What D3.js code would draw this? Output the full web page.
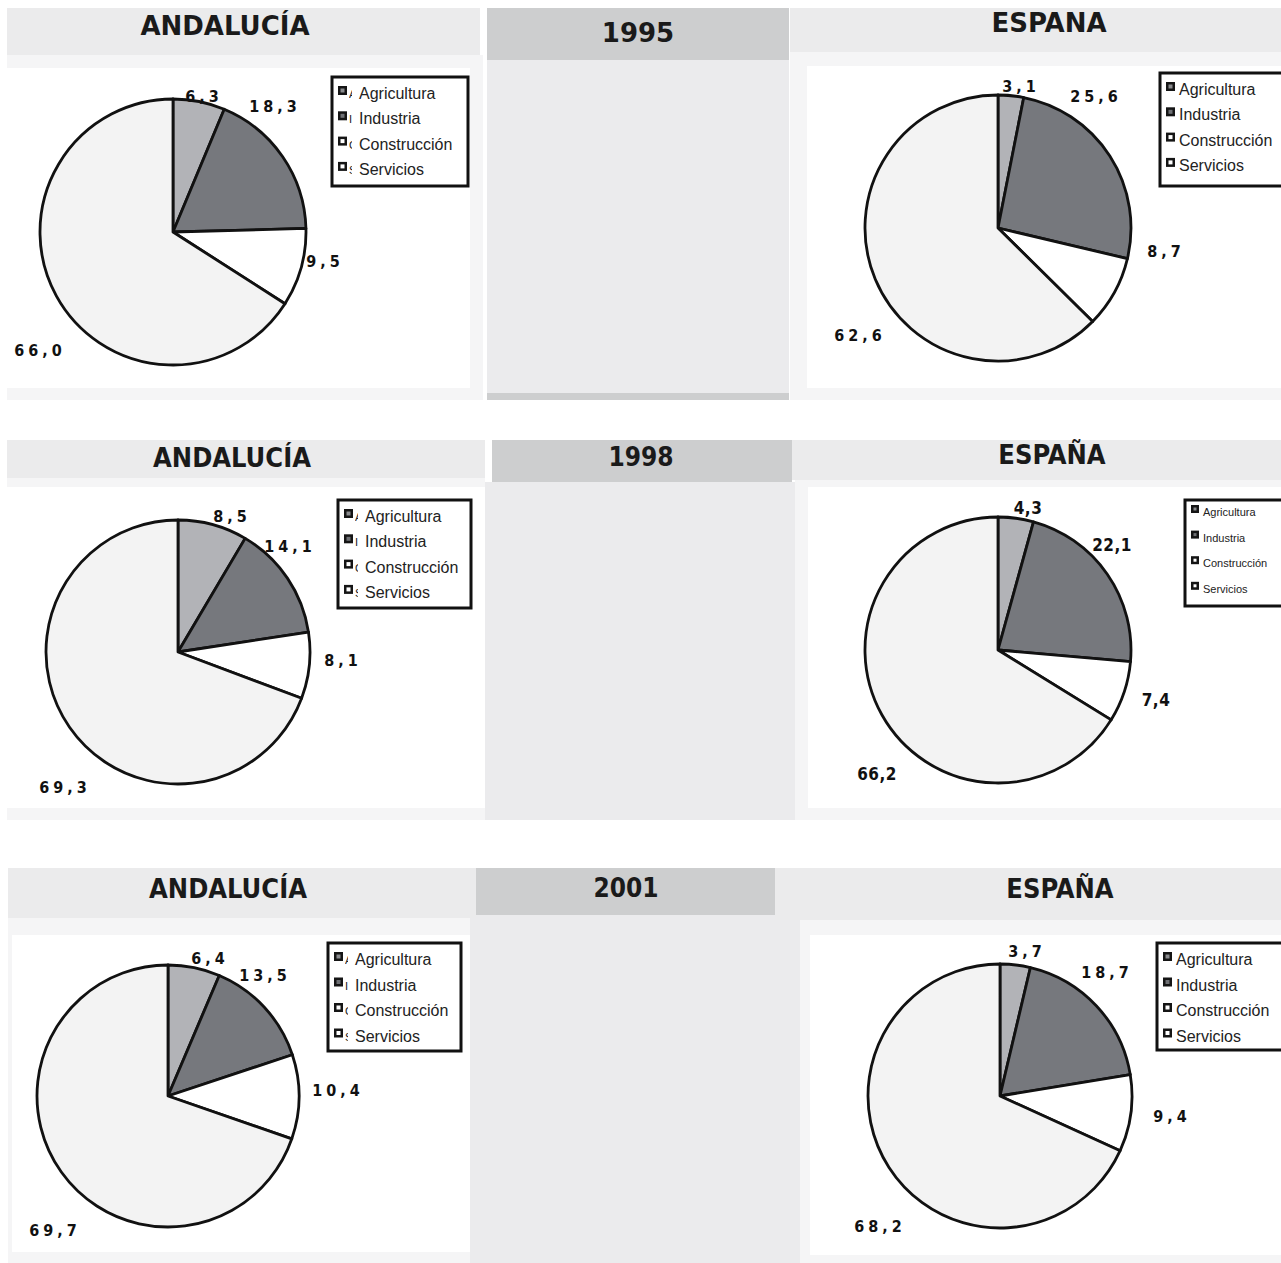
<!DOCTYPE html>
<html><head><meta charset="utf-8">
<script src="https://cdn.jsdelivr.net/npm/d3@7"></script>
<style>
html,body{margin:0;padding:0;background:#fff;}
svg{display:block;}
.hdr{font-family:"DejaVu Sans",Verdana,sans-serif;font-weight:bold;fill:#1a1a1a;}
.val{font-family:"Liberation Sans Narrow","DejaVu Sans Condensed","Arial Narrow",sans-serif;font-weight:bold;font-stretch:condensed;fill:#111;}
.leg{font-family:"Liberation Sans",Arial,sans-serif;fill:#222;}
</style></head>
<body>
<svg id="c" width="1281" height="1263"></svg>
<script>
// ---------- DATA ----------
const sectors = ["Agricultura", "Industria", "Construcción", "Servicios"];
const years = ["1995", "1998", "2001"];
const regions = ["ANDALUCÍA", "ESPAÑA"];
const andalucia = [
  [6.3, 18.3, 9.5, 66.0],
  [8.5, 14.1, 8.1, 69.3],
  [6.4, 13.5, 10.4, 69.7]
];
const espana = [
  [3.1, 25.6, 8.7, 62.6],
  [4.3, 22.1, 7.4, 66.2],
  [3.7, 18.7, 9.4, 68.2]
];

// ---------- STYLE / LAYOUT ----------
const sliceFill = ["#b2b3b7", "#76787d", "#ffffff", "#f3f3f3"];
const iconFill = ["#8a8b8e", "#6e7074", "#ffffff", "#ffffff"];
const C_HDR = "#ebebec", C_YEAR = "#cdcecf", C_BAND = "#f5f5f6", C_MID = "#ebebed";

const rows = [
  { // 1995
    hdrFont: 26, condensed: false,
    left:  {hdr:[7,8,473,47], band:[7,55,476,345], plot:[7,68,463,320], title:[225,35],
            cx:173, cy:232, r:133, spaced:true, fs:16,
            lab:[[31,-130],[102,-120],[152,35],[-133,124]],
            legend:{x:332,y:77,w:136,h:109,fs:16,step:25.3,clip:true}},
    mid:   {hdr:[487,8,302,52], body:[487,60,302,333], strip:[487,393,302,7], title:[638,42]},
    right: {hdr:[790,8,491,44], band:[790,52,491,348], plot:[807,66,474,322], title:[1049,32], clipTop:12,
            cx:998, cy:228, r:133, spaced:true, fs:16,
            lab:[[23,-136],[98,-126],[168,29],[-138,113]],
            legend:{x:1160,y:73,w:130,h:113,fs:16,step:25.3,clip:false}}
  },
  { // 1998
    hdrFont: 27, condensed: true,
    left:  {hdr:[7,440,478,38], band:[7,478,478,342], plot:[7,487,478,321], title:[232,467],
            cx:178, cy:652, r:132, spaced:true, fs:16,
            lab:[[54,-130],[112,-100],[165,14],[-113,141]],
            legend:{x:338,y:500,w:133,h:108,fs:16,step:25.3,clip:true}},
    mid:   {hdr:[492,440,300,42], body:[485,482,310,338], title:[641,466]},
    right: {hdr:[792,440,489,40], band:[795,480,486,340], plot:[808,487,473,321], title:[1052,464],
            cx:998, cy:650, r:133, spaced:false, fs:17,
            lab:[[30,-136],[114,-99],[158,56],[-121,130]],
            legend:{x:1185,y:500,w:100,h:106,fs:11,step:25.6,clip:false,small:true}}
  },
  { // 2001
    hdrFont: 27, condensed: true,
    left:  {hdr:[8,868,468,50], band:[8,918,462,345], plot:[12,935,458,317], title:[228,898],
            cx:168, cy:1096, r:131, spaced:true, fs:16,
            lab:[[42,-132],[97,-115],[170,0],[-113,140]],
            legend:{x:328,y:943,w:133,h:108,fs:16,step:25.5,clip:true}},
    mid:   {hdr:[476,868,299,47], body:[470,915,340,348], title:[626,897]},
    right: {hdr:[775,868,506,52], band:[800,920,481,343], plot:[810,935,471,320], title:[1060,898],
            cx:1000, cy:1096, r:132, spaced:true, fs:16,
            lab:[[27,-139],[107,-118],[172,26],[-120,136]],
            legend:{x:1157,y:943,w:130,h:107,fs:16,step:25.5,clip:false}}
  }
];

const svg = d3.select("#c");
const defs = svg.append("defs");
const fmt = v => d3.format(".1f")(v).replace(".", ",");
const pie = d3.pie().sort(null).value(d => d);

function rect(g, r, fill) {
  g.append("rect").attr("x", r[0]).attr("y", r[1]).attr("width", r[2]).attr("height", r[3]).attr("fill", fill);
}

let clipId = 0;
function panel(p, values, regionName, row) {
  const g = svg.append("g");
  rect(g, p.band, C_BAND);
  rect(g, p.hdr, C_HDR);
  rect(g, p.plot, "#ffffff");
  // title
  let tg = g;
  if (p.clipTop !== undefined) {
    const id = "ct" + (clipId++);
    defs.append("clipPath").attr("id", id).append("rect")
      .attr("x", 0).attr("y", p.clipTop).attr("width", 1281).attr("height", 1263);
    tg = g.append("g").attr("clip-path", `url(#${id})`);
  }
  tg.append("text").attr("class", "hdr")
    .attr("x", p.title[0]).attr("y", p.title[1])
    .attr("text-anchor", "middle")
    .attr("font-size", row.hdrFont)
    .style("font-stretch", row.condensed ? "condensed" : "normal")
    .style("font-family", row.condensed ? '"DejaVu Sans Condensed","DejaVu Sans",sans-serif' : null)
    .text(regionName);

  // pie
  const arc = d3.arc().innerRadius(0).outerRadius(p.r);
  const pg = g.append("g").attr("transform", `translate(${p.cx},${p.cy})`);
  pg.selectAll("path").data(pie(values)).join("path")
    .attr("d", arc)
    .attr("fill", (d, i) => sliceFill[i])
    .attr("stroke", "#111")
    .attr("stroke-width", 2.8)
    .attr("stroke-linejoin", "round");

  // value labels
  pg.selectAll("text.val").data(values).join("text")
    .attr("class", "val")
    .attr("x", (d, i) => p.lab[i][0])
    .attr("y", (d, i) => p.lab[i][1])
    .attr("text-anchor", "middle")
    .attr("font-size", p.fs)
    .attr("letter-spacing", p.spaced ? 4 : 0.5)
    .text(d => fmt(d));

  // legend
  const L = p.legend;
  const lg = g.append("g");
  lg.append("rect").attr("x", L.x).attr("y", L.y).attr("width", L.w).attr("height", L.h)
    .attr("fill", "#fff").attr("stroke", "#111").attr("stroke-width", 3);
  const y0 = L.y + (L.small ? 16 : 17);
  sectors.forEach((s, i) => {
    const yy = y0 + i * L.step;
    const ix = L.x + 6;
    const isz = L.small ? 8 : 9;
    const iy = L.small ? yy - 11 : yy - 8;
    lg.append("rect").attr("x", ix).attr("y", iy).attr("width", isz).attr("height", isz)
      .attr("fill", "#151515");
    lg.append("rect").attr("x", ix + 2.5).attr("y", iy + 2.5).attr("width", isz - 5).attr("height", isz - 5)
      .attr("fill", iconFill[i]);
    let tx = ix + isz + 4;
    if (L.clip) {
      const id = "lc" + (clipId++);
      defs.append("clipPath").attr("id", id).append("rect")
        .attr("x", ix + isz + 2).attr("y", yy - 14).attr("width", 3).attr("height", 20);
      lg.append("text").attr("class", "leg")
        .attr("clip-path", `url(#${id})`)
        .attr("x", ix + isz + 2).attr("y", yy + 4).attr("font-size", 11)
        .text(s.charAt(0));
      tx = ix + isz + 12;
    }
    lg.append("text").attr("class", "leg")
      .attr("x", tx).attr("y", yy + (L.small ? 0 : 5))
      .attr("font-size", L.fs)
      .text(s);
  });
}

rows.forEach((row, ri) => {
  // middle column
  const m = row.mid;
  const mg = svg.append("g");
  rect(mg, m.body, C_MID);
  if (m.strip) rect(mg, m.strip, C_YEAR);
  rect(mg, m.hdr, C_YEAR);
  mg.append("text").attr("class", "hdr")
    .attr("x", m.title[0]).attr("y", m.title[1])
    .attr("text-anchor", "middle")
    .attr("font-size", 26)
    .style("font-family", row.condensed ? '"DejaVu Sans Condensed","DejaVu Sans",sans-serif' : null)
    .text(years[ri]);
  panel(row.left, andalucia[ri], regions[0], row);
  panel(row.right, espana[ri], regions[1], row);
});
</script>
</body></html>
